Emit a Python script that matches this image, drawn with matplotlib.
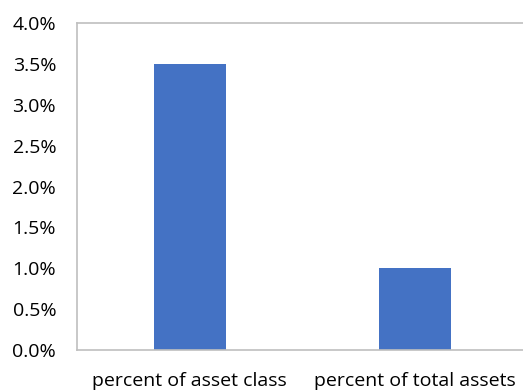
import matplotlib
matplotlib.use("Agg")
import matplotlib.pyplot as plt
from matplotlib.ticker import FuncFormatter, MultipleLocator

categories = ["percent of asset class", "percent of total assets"]
values = [0.035, 0.010]

plt.rcParams['font.family'] = ['Open Sans', 'DejaVu Sans']

fig = plt.figure(figsize=(5.23, 3.92), dpi=100)
ax = fig.add_axes([77/523, 1-350/392, 450/523, 327/392])
x = range(len(categories))
ax.bar(x, values, width=0.32, color="#4472C4", zorder=2)
ax.set_xlim(-0.5, 1.5)
ax.set_ylim(0, 0.04)
ax.yaxis.set_major_locator(MultipleLocator(0.005))
ax.yaxis.set_major_formatter(FuncFormatter(lambda v, p: f"{v*100:.1f}%"))
ax.set_xticks(list(x))
ax.set_xticklabels(categories)
for s in ax.spines.values():
    s.set_color("#BFBFBF")
    s.set_linewidth(1.2)
ax.spines['right'].set_visible(False)
ax.tick_params(axis='both', length=0, labelsize=14, colors="#000000")
ax.tick_params(axis='y', pad=15)
ax.tick_params(axis='x', pad=16)
fig.savefig("out.png", dpi=100)
